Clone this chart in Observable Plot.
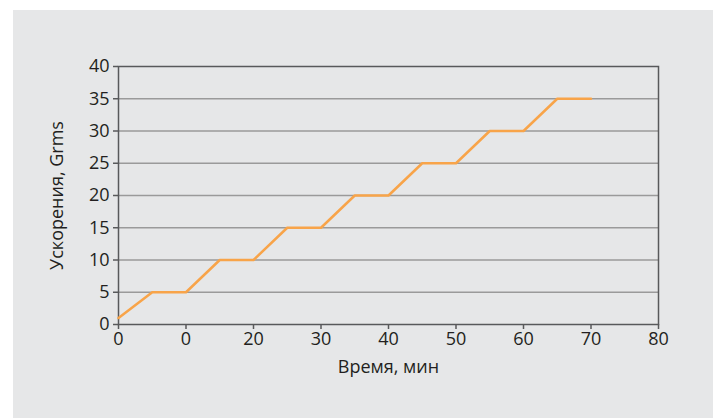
<!DOCTYPE html>
<html><head><meta charset="utf-8">
<script src="https://cdn.jsdelivr.net/npm/d3@7"></script>
<script src="https://cdn.jsdelivr.net/npm/@observablehq/plot@0.6"></script>
<style>
html,body{margin:0;padding:0;background:#fff;}
#panel{position:absolute;left:13px;top:10px;width:700px;height:408px;background:#e6e7e8;}
#panel svg{display:block;}
</style></head><body>
<div id="panel"></div>
<script>
const timeMin = [0, 5, 10, 15, 20, 25, 30, 35, 40, 45, 50, 55, 60, 65, 70];
const accelGrms = [1, 5, 5, 10, 10, 15, 15, 20, 20, 25, 25, 30, 30, 35, 35];
const xTicks = [0, 10, 20, 30, 40, 50, 60, 70, 80];
const xTickLabels = ["0", "0", "20", "30", "40", "50", "60", "70", "80"];
const yTicks = [0, 5, 10, 15, 20, 25, 30, 35, 40];
const gridLevels = [5, 10, 15, 20, 25, 30, 35];

const data = timeMin.map((t, i) => ({t, a: accelGrms[i]}));
const labelOf = new Map(xTicks.map((t, i) => [t, xTickLabels[i]]));

const chart = Plot.plot({
  width: 700,
  height: 408,
  marginLeft: 105,
  marginRight: 55,
  marginTop: 56,
  marginBottom: 94,
  style: {background: "transparent", fontFamily: "'Open Sans', sans-serif", fontSize: "18px", color: "#231f20"},
  x: {domain: [0, 80]},
  y: {domain: [0, 40]},
  marks: [
    Plot.ruleY(gridLevels, {stroke: "#9a9a9a", strokeWidth: 1.5}),
    Plot.frame({stroke: "#58595b", strokeWidth: 1.5}),
    Plot.line(data, {x: "t", y: "a", stroke: "#f8a449", strokeWidth: 2.5}),
    Plot.axisX({ticks: xTicks, tickFormat: d => labelOf.get(d), label: "Время, мин", labelAnchor: "center", labelArrow: "none", labelOffset: 48, tickSize: 5, tickPadding: 3, stroke: "#58595b", strokeWidth: 1.5}),
    Plot.axisY({ticks: yTicks, label: "Ускорения, Grms", labelAnchor: "center", labelArrow: "none", labelOffset: 68, tickSize: 5, tickPadding: 4, stroke: "#58595b", strokeWidth: 1.5})
  ]
});
document.getElementById("panel").appendChild(chart);
</script></body></html>
